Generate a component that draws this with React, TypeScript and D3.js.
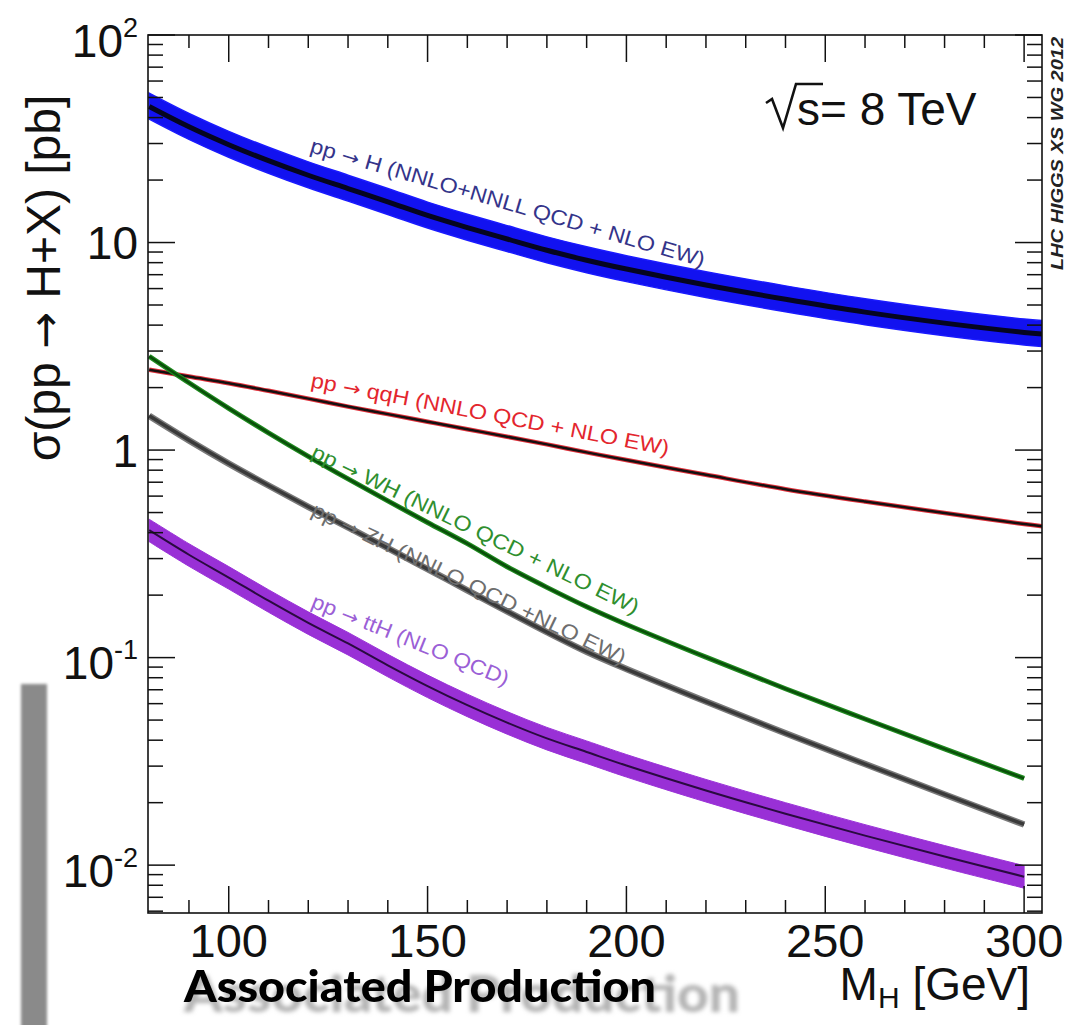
import React from 'react';
import * as d3 from 'd3';

// ---------- data ----------
const ggHMasses = [80, 90, 100, 110, 120, 130, 140, 150, 160, 170, 180, 190, 200, 220, 240, 260, 280, 300, 305];
const ggH = [45.2, 36.1, 29.6, 24.8, 21.1, 18.2, 15.7, 13.5, 11.8, 10.4, 9.18, 8.22, 7.45, 6.24, 5.33, 4.62, 4.09, 3.69, 3.62];
const vbf = [2.44, 2.26, 2.10, 1.93, 1.77, 1.62, 1.49, 1.37, 1.26, 1.16, 1.065, 0.975, 0.895, 0.76, 0.648, 0.565, 0.498, 0.44, 0.428];

const vhMasses = [80, 90, 100, 110, 120, 130, 140, 150, 160, 170, 180, 190, 200, 220, 240, 260, 280, 300];
const wh = [2.83, 2.11, 1.589, 1.211, 0.933, 0.726, 0.569, 0.448, 0.354, 0.274, 0.218, 0.1758, 0.1445, 0.1005, 0.0708, 0.0506, 0.0363, 0.0262];
const zh = [1.462, 1.114, 0.861, 0.675, 0.533, 0.424, 0.337, 0.267, 0.211, 0.167, 0.1327, 0.1067, 0.0881, 0.0614, 0.0432, 0.0307, 0.0219, 0.0157];
const tth = [0.411, 0.313, 0.243, 0.188, 0.147, 0.117, 0.0918, 0.0729, 0.059, 0.0486, 0.0408, 0.0351, 0.0302, 0.0229, 0.0177, 0.01387, 0.011, 0.0088];

// relative band half-widths
const ggHUp = 0.16;
const ggHDown = 0.13;
const tthUp = 0.13;
const tthDown = 0.12;

const xMajorTicks = [100, 150, 200, 250, 300];
const xMinorTicks = [90, 110, 120, 130, 140, 160, 170, 180, 190, 210, 220, 230, 240, 260, 270, 280, 290];
const yTickValues = [0.01, 0.1, 1, 10, 100];
const yTickBases = ['10', '10', '1', '10', '10'];
const yTickExps = ['-2', '-1', '', '', '2'];

const labels = [
  { pre: 'pp ', post: ' H (NNLO+NNLL QCD + NLO EW)', color: '#34348a' },
  { pre: 'pp ', post: ' qqH (NNLO QCD + NLO EW)', color: '#e3262e' },
  { pre: 'pp ', post: ' WH (NNLO QCD + NLO EW)', color: '#2f8f2f' },
  { pre: 'pp ', post: ' ZH (NNLO QCD +NLO EW)', color: '#6e6e6e' },
  { pre: 'pp ', post: ' ttH (NLO QCD)', color: '#9b5fd6' },
];

// ---------- layout ----------
const W = 1080;
const H = 1025;
const L = 148, R = 1042, T = 35, B = 913;
const FONT = "'Liberation Sans', Arial, Helvetica, sans-serif";
const ARROW_FONT = "'DejaVu Sans', sans-serif";

const labelPlacement = [
  { x: 309, y: 152, angle: 16.3, len: 410 },
  { x: 310, y: 387, angle: 10.8, len: 364 },
  { x: 310, y: 457, angle: 25.9, len: 361 },
  { x: 310, y: 515, angle: 25.7, len: 346 },
  { x: 310, y: 607, angle: 22.0, len: 211 },
];

export default function App() {
  const x = d3.scaleLinear().domain([79.7, 304.5]).range([L, R]);
  const y = d3.scaleLog().domain([0.00588, 100]).range([B, T]);

  const curve = d3.curveCatmullRom.alpha(0.5);
  const line = d3
    .line<[number, number]>()
    .x((d) => x(d[0]))
    .y((d) => y(d[1]))
    .curve(curve);

  const area = d3
    .area<[number, number, number]>()
    .x((d) => x(d[0]))
    .y0((d) => y(d[1]))
    .y1((d) => y(d[2]))
    .curve(curve);

  const pts = (ms: number[], vs: number[]) => ms.map((m, i) => [m, vs[i]] as [number, number]);
  const band = (ms: number[], vs: number[], up: number, dn: number) =>
    ms.map((m, i) => [m, vs[i] * (1 - dn), vs[i] * (1 + up)] as [number, number, number]);

  const yTicks = y.ticks().filter((v) => v >= y.domain()[0] && v <= 100);
  const isMajor = (v: number) => Math.abs(Math.log10(v) - Math.round(Math.log10(v))) < 1e-6;

  return (
    <svg
      width={W}
      height={H}
      viewBox={`0 0 ${W} ${H}`}
      style={{ position: 'absolute', left: 0, top: 0, display: 'block', background: '#fff' }}
    >
      <defs>
        <clipPath id="plot">
          <rect x={L} y={T} width={R - L} height={B - T} />
        </clipPath>
        <filter id="blur2" x="-20%" y="-20%" width="140%" height="140%">
          <feGaussianBlur stdDeviation="2" />
        </filter>
        <filter id="blur1" x="-20%" y="-20%" width="140%" height="140%">
          <feGaussianBlur stdDeviation="1.4" />
        </filter>
        <filter id="soft" x="-5%" y="-5%" width="110%" height="110%">
          <feGaussianBlur stdDeviation="0.6" />
        </filter>
      </defs>
      <rect x={0} y={0} width={W} height={H} fill="#fff" />

      {/* gray side bar */}
      <rect x={21} y={684} width={26} height={360} fill="#8a8a8a" filter="url(#blur1)" />

      {/* curves */}
      <g clipPath="url(#plot)">
        <path d={area(band(ggHMasses, ggH, ggHUp, ggHDown)) || ''} fill="#1212f0" stroke="#1a1aff" strokeWidth={1.5} />
        <path d={line(pts(ggHMasses, ggH)) || ''} fill="none" stroke="#050520" strokeWidth={5} />

        <path d={line(pts(ggHMasses, vbf)) || ''} fill="none" stroke="#e0303a" strokeWidth={4.5} />
        <path d={line(pts(ggHMasses, vbf)) || ''} fill="none" stroke="#151010" strokeWidth={2.5} />

        <path d={line(pts(vhMasses, wh)) || ''} fill="none" stroke="#1f8a1f" strokeWidth={5} />
        <path d={line(pts(vhMasses, wh)) || ''} fill="none" stroke="#0a4f0a" strokeWidth={2.5} />

        <path d={line(pts(vhMasses, zh)) || ''} fill="none" stroke="#7a7a7a" strokeWidth={6.5} />
        <path d={line(pts(vhMasses, zh)) || ''} fill="none" stroke="#3a3a3a" strokeWidth={3.5} />

        <path d={area(band(vhMasses, tth, tthUp, tthDown)) || ''} fill="#9930d6" stroke="#9a32d8" strokeWidth={1} />
        <path d={line(pts(vhMasses, tth)) || ''} fill="none" stroke="#2a0a40" strokeWidth={2} />
      </g>

      {/* curve labels */}
      {labels.map((lb, i) => {
        const p = labelPlacement[i];
        return (
          <text
            key={lb.post}
            x={p.x}
            y={p.y}
            transform={`rotate(${p.angle} ${p.x} ${p.y})`}
            fontFamily={FONT}
            fontSize={21}
            fill={lb.color}
            textLength={p.len}
            lengthAdjust="spacingAndGlyphs"
          >
            {lb.pre}
            <tspan fontFamily={ARROW_FONT} fontSize={19}>
              {'\u2192'}
            </tspan>
            {lb.post}
          </text>
        );
      })}

      {/* frame */}
      <rect x={L} y={T} width={R - L} height={B - T} fill="none" stroke="#111" strokeWidth={1.6} />

      {/* x ticks */}
      {xMajorTicks.map((v) => (
        <g key={'xM' + v}>
          <line x1={x(v)} x2={x(v)} y1={B} y2={B - 27} stroke="#111" strokeWidth={1.5} />
          <line x1={x(v)} x2={x(v)} y1={T} y2={T + 27} stroke="#111" strokeWidth={1.5} />
          <text x={x(v)} y={957} textAnchor="middle" fontFamily={FONT} fontSize={47} fill="#111">
            {v}
          </text>
        </g>
      ))}
      {xMinorTicks.map((v) => (
        <g key={'xm' + v}>
          <line x1={x(v)} x2={x(v)} y1={B} y2={B - 13} stroke="#111" strokeWidth={1.5} />
          <line x1={x(v)} x2={x(v)} y1={T} y2={T + 13} stroke="#111" strokeWidth={1.5} />
        </g>
      ))}

      {/* y ticks */}
      {yTicks.map((v, i) => {
        const len = isMajor(v) ? 27 : 15;
        return (
          <g key={'y' + i}>
            <line x1={L} x2={L + len} y1={y(v)} y2={y(v)} stroke="#111" strokeWidth={1.5} />
            <line x1={R} x2={R - len} y1={y(v)} y2={y(v)} stroke="#111" strokeWidth={1.5} />
          </g>
        );
      })}
      {yTickValues.map((v, i) => (
        <text
          key={'yl' + i}
          x={138}
          y={y(v) + 16.5 + (yTickExps[i] ? 5 : 0)}
          textAnchor="end"
          fontFamily={FONT}
          fontSize={46}
          fill="#111"
        >
          <tspan>{yTickBases[i]}</tspan>
          {yTickExps[i] ? (
            <tspan fontSize={27} dy={-20}>
              {yTickExps[i]}
            </tspan>
          ) : null}
        </text>
      ))}

      {/* axis titles */}
      <text
        x={60}
        y={278}
        transform="rotate(-90 60 278)"
        textAnchor="middle"
        fontFamily={FONT}
        fontSize={48}
        fill="#111"
      >
        {'\u03c3(pp '}
        <tspan fontFamily={ARROW_FONT} fontSize={44}>
          {'\u2192'}
        </tspan>
        {' H+X) [pb]'}
      </text>
      <text x={1030} y={1000} textAnchor="end" fontFamily={FONT} fontSize={46} fill="#111">
        M
        <tspan fontSize={30} dy={8}>
          H
        </tspan>
        <tspan dy={-8}> [GeV]</tspan>
      </text>

      {/* sqrt(s) */}
      <path d="M 766 103 L 772 99 L 783 128 L 796 84 L 823 84" fill="none" stroke="#111" strokeWidth={2.6} />
      <text x={797} y={125} fontFamily={FONT} fontSize={46} fill="#111">
        s= 8 TeV
      </text>

      {/* watermark */}
      <text
        x={1063}
        y={270}
        transform="rotate(-90 1063 270)"
        fontFamily={FONT}
        fontSize={17}
        fontWeight="bold"
        fontStyle="italic"
        fill="#222"
        textLength={233}
        lengthAdjust="spacingAndGlyphs"
      >
        LHC HIGGS XS WG 2012
      </text>

      {/* Associated Production with ghost */}
      <text
        x={184}
        y={1012}
        fontFamily="Lato, 'Open Sans', sans-serif"
        fontWeight={900}
        fontSize={52}
        fill="#b4b4b4"
        textLength={556}
        lengthAdjust="spacingAndGlyphs"
        filter="url(#blur2)"
      >
        Associated Production
      </text>
      <text
        x={184}
        y={1002}
        fontFamily="Lato, 'Open Sans', sans-serif"
        fontWeight={900}
        fontSize={44}
        fill="#000"
        textLength={472}
        lengthAdjust="spacingAndGlyphs"
        filter="url(#soft)"
      >
        Associated Production
      </text>
    </svg>
  );
}
